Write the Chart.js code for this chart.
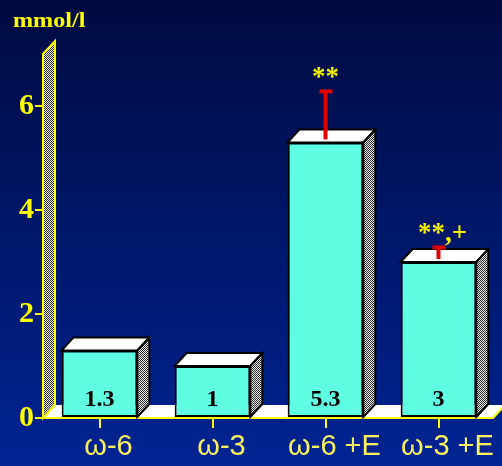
<!DOCTYPE html>
<html>
<head>
<meta charset="utf-8">
<script src="https://cdn.jsdelivr.net/npm/chart.js@4/dist/chart.umd.min.js"></script>
<style>
  html, body { margin: 0; padding: 0; background: #001060; }
  #wrap { width: 502px; height: 466px; }
</style>
</head>
<body>
<div id="wrap"><canvas id="chart" width="502" height="466"></canvas></div>
<script>
// donnees
const categories = ['ω-6', 'ω-3', 'ω-6 +E', 'ω-3 +E'];
const values = [1.3, 1, 5.3, 3];
const errorTop = [null, null, 6.3, 3.3];
const marks = ['', '', '**', '**,+'];
const yTicks = [0, 2, 4, 6];
const unitLabel = 'mmol/l';

const DX = 12, DY = 13;
const YELLOW = '#ffff00';

// motif gris tramé pour les faces laterales
function makeHatch() {
  const c = document.createElement('canvas');
  c.width = 2; c.height = 2;
  const g = c.getContext('2d');
  g.fillStyle = '#e8e8e8'; g.fillRect(0, 0, 2, 2);
  g.fillStyle = '#303030';
  g.fillRect(0, 0, 1, 1); g.fillRect(1, 1, 1, 1);
  return g.createPattern(c, 'repeat');
}

function poly(ctx, pts) {
  ctx.beginPath();
  ctx.moveTo(pts[0][0], pts[0][1]);
  for (let i = 1; i < pts.length; i++) ctx.lineTo(pts[i][0], pts[i][1]);
  ctx.closePath();
}

const scene3d = {
  id: 'scene3d',
  beforeDraw(chart) {
    const { ctx, width, height } = chart;
    const grad = ctx.createLinearGradient(0, 0, 0, height);
    grad.addColorStop(0, '#000a40');
    grad.addColorStop(1, '#002493');
    ctx.save();
    ctx.fillStyle = grad;
    ctx.fillRect(0, 0, width, height);
    ctx.restore();
  },
  beforeDatasetsDraw(chart) {
    const { ctx, chartArea: a } = chart;
    const hatch = makeHatch();
    ctx.save();
    // sol
    const fr = a.right - 2;
    poly(ctx, [[a.left, a.bottom], [a.left + DX, a.bottom - DY], [fr + DX, a.bottom - DY], [fr, a.bottom]]);
    ctx.fillStyle = '#ffffff';
    ctx.fill();
    ctx.strokeStyle = YELLOW;
    ctx.lineWidth = 2;
    ctx.beginPath();
    ctx.moveTo(a.left, a.bottom);
    ctx.lineTo(fr, a.bottom);
    ctx.lineTo(fr + DX, a.bottom - DY);
    ctx.stroke();
    // mur
    poly(ctx, [[a.left, a.bottom], [a.left, a.top], [a.left + DX, a.top - DY], [a.left + DX, a.bottom - DY]]);
    ctx.fillStyle = hatch;
    ctx.fill();
    ctx.strokeStyle = YELLOW;
    ctx.lineWidth = 2;
    ctx.stroke();
    ctx.restore();
  },
  afterDatasetsDraw(chart) {
    const { ctx } = chart;
    const yScale = chart.scales.y;
    const hatch = makeHatch();
    const meta = chart.getDatasetMeta(0);
    ctx.save();
    meta.data.forEach((bar, i) => {
      const left = bar.x - bar.width / 2;
      const right = bar.x + bar.width / 2;
      const top = bar.y, base = bar.base;
      ctx.lineWidth = 2;
      ctx.strokeStyle = '#000';
      ctx.lineJoin = 'miter';
      // face du dessus
      poly(ctx, [[left, top], [left + DX, top - DY], [right + DX, top - DY], [right, top]]);
      ctx.fillStyle = '#ffffff';
      ctx.fill();
      ctx.stroke();
      // face laterale
      poly(ctx, [[right, top], [right + DX, top - DY], [right + DX, base - DY], [right, base]]);
      ctx.fillStyle = hatch;
      ctx.fill();
      ctx.stroke();

      // valeur dans la barre
      ctx.fillStyle = '#000';
      ctx.font = 'bold 24px "Liberation Serif", "Times New Roman", serif';
      ctx.textAlign = 'center';
      ctx.textBaseline = 'alphabetic';
      ctx.fillText(String(values[i]), bar.x, base - 11);

      // barre d'erreur
      if (errorTop[i] != null) {
        const ey = yScale.getPixelForValue(errorTop[i]);
        ctx.strokeStyle = '#e00000';
        ctx.lineWidth = 4;
        ctx.beginPath();
        ctx.moveTo(bar.x, top - 3);
        ctx.lineTo(bar.x, ey);
        ctx.stroke();
        ctx.fillStyle = '#e00000';
        ctx.fillRect(bar.x - 6, ey - 1, 13, 4);
        if (marks[i]) {
          ctx.fillStyle = '#f4f000';
          ctx.font = 'bold 27px "Liberation Serif", "Times New Roman", serif';
          ctx.textAlign = 'center';
          ctx.fillText(marks[i], bar.x + (marks[i].length > 2 ? 4 : 0), ey - 5);
        }
      }
    });
    ctx.restore();
  },
  afterDraw(chart) {
    const { ctx } = chart;
    ctx.save();
    ctx.fillStyle = YELLOW;
    ctx.font = 'bold 21px "Liberation Serif", "Times New Roman", serif';
    ctx.textBaseline = 'alphabetic';
    ctx.translate(13, 27);
    ctx.scale(1.15, 1);
    ctx.fillText(unitLabel, 0, 0);
    ctx.restore();
  }
};

new Chart(document.getElementById('chart').getContext('2d'), {
  type: 'bar',
  data: {
    labels: categories,
    datasets: [{
      data: values,
      backgroundColor: '#5ffee3',
      borderColor: '#000',
      borderWidth: 2,
      borderSkipped: false,
      barPercentage: 0.67,
      categoryPercentage: 1
    }]
  },
  options: {
    responsive: false,
    animation: false,
    layout: { padding: { top: 54, right: 7, left: 0, bottom: 0 } },
    plugins: {
      legend: { display: false },
      tooltip: { enabled: false }
    },
    scales: {
      x: {
        afterFit(scale) { scale.height = 48; },
        border: { display: false },
        grid: {
          offset: false,
          drawOnChartArea: false,
          drawTicks: true,
          tickLength: 10,
          color: YELLOW,
          lineWidth: 2
        },
        ticks: {
          color: '#f8f060',
          font: { family: '"Liberation Sans", Arial, sans-serif', size: 29 },
          padding: 2,
          labelOffset: 9,
          maxRotation: 0,
          autoSkip: false
        }
      },
      y: {
        min: 0,
        max: 7,
        afterFit(scale) { scale.width = 43; },
        afterBuildTicks(scale) { scale.ticks = yTicks.map(v => ({ value: v })); },
        border: { display: false },
        grid: {
          drawOnChartArea: false,
          drawTicks: true,
          tickLength: 8,
          color: YELLOW,
          lineWidth: 2
        },
        ticks: {
          color: YELLOW,
          font: { family: '"Liberation Serif", "Times New Roman", serif', size: 30, weight: 'bold' },
          padding: 1
        }
      }
    }
  },
  plugins: [scene3d]
});
</script>
</body>
</html>
